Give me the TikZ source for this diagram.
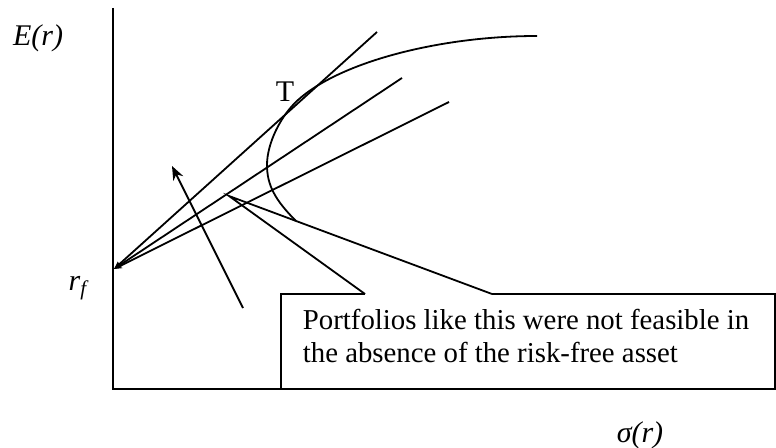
\documentclass[tikz,border=0pt]{standalone}
\usepackage{fontspec}
\setmainfont{Liberation Serif}
\usetikzlibrary{arrows.meta}

\begin{document}
\begin{tikzpicture}[x=0.5pt, y=-0.5pt, >={Stealth[length=4pt,width=3pt]}, line width=0.9pt,
    axis/.style={line width=1.4pt},
    lbl/.style={font=\fontsize{15}{18}\selectfont\itshape, inner sep=0pt},
    note/.style={font=\fontsize{14.4}{17}\selectfont, inner sep=0pt, anchor=base west}]

    \useasboundingbox (0,0) rectangle (776,448);

    % Points of the plot
    \coordinate (top) at (113,8);
    \coordinate (origin) at (113,389);
    \coordinate (rf) at (114,269);
    \coordinate (cml1) at (377,32);
    \coordinate (cml2) at (402,78);
    \coordinate (cml3) at (449,102);
    \coordinate (f0) at (296,221);
    \coordinate (fv) at (267,165);
    \coordinate (ft) at (298,100);
    \coordinate (f1) at (537,36);

    % Callout corners
    \coordinate (tip) at (229,196);
    \coordinate (pl) at (365,294);
    \coordinate (pr) at (492,294);
    \coordinate (tr) at (775,294);
    \coordinate (br) at (775,389);
    \coordinate (bl) at (281,389);
    \coordinate (tl) at (281,294);

    % Labels
    \node[lbl] (er) at (38,38) {E(r)};
    \node[lbl] (rflbl) at (78,288) {r\textsubscript{f}};
    \node[lbl] (sig) at (640,435) {σ(r)};
    \node[font=\fontsize{15}{18}\selectfont, anchor=base, inner sep=0pt] (tlbl) at (285,102) {T};
    \node[note] (note1) at (302,330) {Portfolios like this were not feasible in};
    \node[note] (note2) at (302,363) {the absence of the risk-free asset};

    % Axes
    \draw[axis] (top) -- (origin) -- (bl);

    % Frontier
    \draw (f0) .. controls (275,200) and (267,185) .. (fv)
               .. controls (267,143) and (281,115.3) .. (ft)
               .. controls (340,62) and (440,36) .. (f1);

    % Lines from the risk-free asset
    \draw[<-] (rf) -- (cml1);
    \draw[<-] (rf) -- (cml2);
    \draw[<-] (rf) -- (cml3);

    % Arrow
    \coordinate (arrowtail) at (243,308);
    \coordinate (arrowhead) at (172,166);
    \draw[-{Stealth[length=7pt,width=5.5pt]}] (arrowtail) -- (arrowhead);

    % Callout
    \draw[line join=miter] (pl) -- (tip) -- (pr);
    \draw[axis, line join=miter] (pr) -- (tr) -- (br) -- (bl) -- (tl) -- (pl);

\end{tikzpicture}
\end{document}
